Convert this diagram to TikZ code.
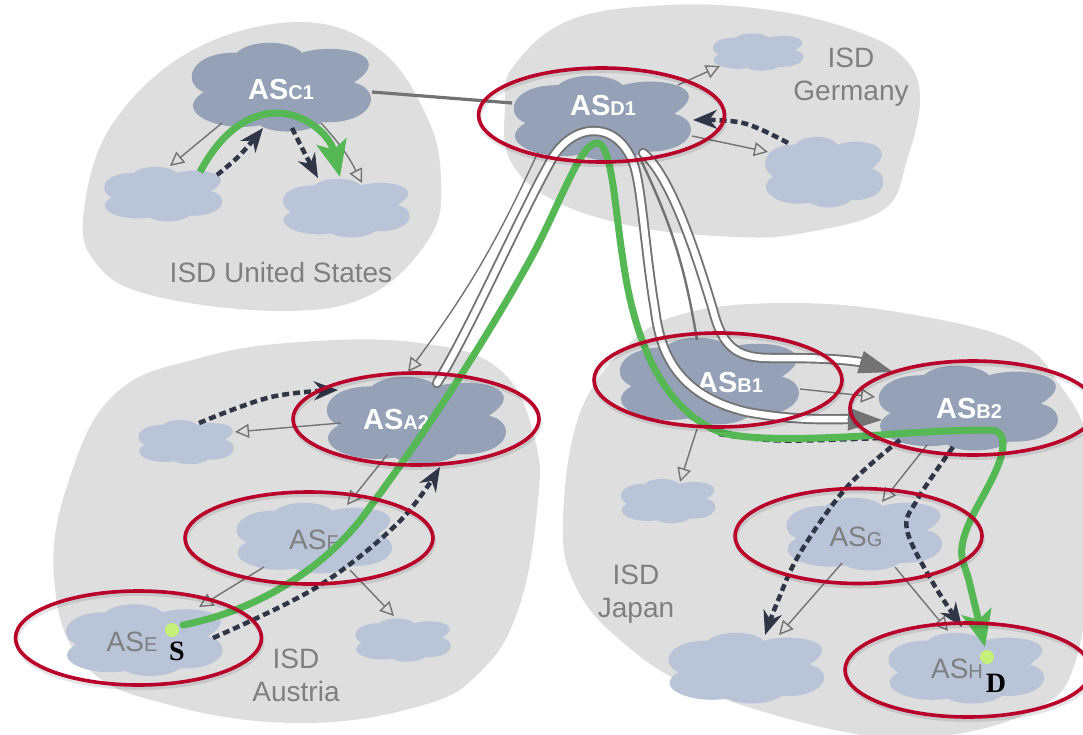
\documentclass[tikz,border=0pt]{standalone}
\usepackage{fontspec}
\setmainfont{Liberation Sans}
\newfontfamily\serifbold{Liberation Serif}
\usetikzlibrary{arrows.meta,shapes.geometric}
\definecolor{blob}{HTML}{DEDEDE}
\definecolor{clouddark}{HTML}{95A1B7}
\definecolor{cloudlight}{HTML}{B9C4D9}
\definecolor{ringred}{HTML}{B8002B}
\definecolor{labelgray}{HTML}{7F7F7F}
\definecolor{wiregray}{HTML}{737373}
\definecolor{pathgreen}{HTML}{55B855}
\definecolor{dashdark}{HTML}{2F3648}
\definecolor{dotgreen}{HTML}{C5F07A}
\tikzset{
  isdblob/.style={fill=blob,draw=none},
  isdtext/.style={text=labelgray,font=\fontsize{28}{33}\selectfont,align=center,inner sep=0pt},
  aswhite/.style={text=white,font=\bfseries\fontsize{29}{29}\selectfont,inner sep=0pt},
  asgray/.style={text=labelgray,font=\fontsize{28}{28}\selectfont,inner sep=0pt},
  wire/.style={draw=wiregray,line width=1.4pt,-{Triangle[open,length=14pt,width=14pt,line width=1.4pt]}},
  plainwire/.style={draw=wiregray,line width=2.4pt},
  peerwire/.style={draw=wiregray,line width=3.2pt},
  ring/.style={draw=ringred,line width=3.6pt,fill=none},
  ringshade/.style={draw=black,opacity=.10,line width=4pt,fill=none},
  greenpath/.style={draw=pathgreen,line width=7pt,line cap=round},
  greentip/.style={draw=pathgreen,line width=7pt,-{Stealth[length=36pt,width=30pt,inset=8pt,fill=pathgreen]}},
  dashpath/.style={draw=dashdark,line width=4.5pt,dash pattern=on 7pt off 4pt},
  dashtip/.style={draw=dashdark,line width=4.5pt,dash pattern=on 7pt off 4pt,-{Stealth[length=24pt,width=19pt,fill=dashdark]}},
  tube/.style={draw=wiregray,double=white,double distance=6.5pt,line width=1.9pt,line cap=round},
  tubetip/.style={draw=wiregray,line width=1pt,-{Triangle[length=34pt,width=23pt,fill=wiregray]}},
  dot/.style={circle,fill=dotgreen,draw=none,minimum size=14pt,inner sep=0pt},
}
\newcommand{\ascloud}[6]{%
  \path[fill=#6,shift={(#2,#3)},xscale=#4,yscale=#5]
    (-0.85,0.12) .. controls (-1.1,-0.1) and (-1.0,-0.8) .. (-0.485,-0.78)
    .. controls (-0.35,-1.08) and (0.1,-1.08) .. (0.23,-0.78)
    .. controls (0.6,-1.02) and (1.28,-0.75) .. (0.8,-0.1)
    .. controls (1.12,0.05) and (1.05,0.85) .. (0.45,0.8)
    .. controls (0.3,1.07) and (-0.1,1.07) .. (-0.23,0.87)
    .. controls (-0.7,1.05) and (-1.2,0.55) .. (-0.85,0.12) -- cycle;
  \node[ellipse,minimum width=2*#4pt,minimum height=2*#5pt,inner sep=0pt] (#1) at (#2,#3) {};%
}
\newcommand{\asring}[5]{%
  \draw[ringshade] (#2+1,#3+3) ellipse [x radius=#4,y radius=#5];
  \node[ellipse,ring,minimum width=2*#4pt,minimum height=2*#5pt,inner sep=0pt] (#1) at (#2,#3) {};%
}
\begin{document}
\begin{tikzpicture}[x=1pt,y=-1pt]
\useasboundingbox (0,0) rectangle (1083,735);
\clip (0,0) rectangle (1083,735);
% ISD regions
\fill[isdblob] plot[smooth cycle,tension=.65] coordinates {(84,210) (113,123) (193,50) (300,22) (380,50) (427,117) (441,180) (430,237) (370,295) (280,311) (150,295) (95,262)};
\fill[isdblob] plot[smooth cycle,tension=.65] coordinates {(505,107) (513,67) (570,20) (670,5) (770,10) (853,30) (903,57) (920,97) (907,160) (883,210) (803,233) (737,237) (637,227) (553,200) (510,160)};
\fill[isdblob] plot[smooth cycle,tension=.7] coordinates {(54,577) (70,477) (116,393) (200,358) (300,342) (420,343) (500,370) (535,440) (537,510) (518,610) (480,672) (420,706) (300,723) (170,705) (85,665)};
\fill[isdblob] plot[smooth cycle,tension=.65] coordinates {(563,520) (580,413) (630,343) (690,312) (790,303) (897,312) (1013,340) (1060,385) (1090,450) (1090,560) (1075,663) (1040,707) (950,735) (850,733) (700,690) (620,640) (575,585)};
% AS clouds
\ascloud{c1}{281}{87}{91}{44}{clouddark}
\ascloud{usl}{163}{194}{60}{27}{cloudlight}
\ascloud{usr}{346}{208}{64.5}{29}{cloudlight}
\ascloud{d1}{602}{118}{90}{42}{clouddark}
\ascloud{get}{758}{52}{46}{18.5}{cloudlight}
\ascloud{ger}{824}{172}{60}{35}{cloudlight}
\ascloud{a2}{416}{420}{91}{43}{clouddark}
\ascloud{atl}{186}{442}{48.5}{22}{cloudlight}
\ascloud{f}{314}{538}{79}{35}{cloudlight}
\ascloud{e}{144}{640}{79.5}{35.5}{cloudlight}
\ascloud{atr}{403}{640}{48.5}{21.5}{cloudlight}
\ascloud{b1}{709}{381}{91}{43}{clouddark}
\ascloud{b2}{968}{408}{91}{42}{clouddark}
\ascloud{jpl}{668}{501}{48}{22}{cloudlight}
\ascloud{g}{864}{534}{79}{36}{cloudlight}
\ascloud{jb}{746}{668}{79}{35}{cloudlight}
\ascloud{h}{966}{668}{79}{35}{cloudlight}
% labels
\node[isdtext] (tus) at (281,272) {ISD United States};
\node[isdtext] (tger) at (851,77) {ISD\\Germany};
\node[isdtext] (taut) at (296,675) {ISD\\Austria};
\node[isdtext] (tjap) at (636,594) {ISD\\Japan};
\node[aswhite] (lc1) at (281,90) {AS{\fontsize{20}{20}\selectfont C1}};
\node[aswhite] (ld1) at (603,106) {AS{\fontsize{20}{20}\selectfont D1}};
\node[aswhite] (la2) at (396,420) {AS{\fontsize{20}{20}\selectfont A2}};
\node[aswhite] (lb1) at (730,383) {AS{\fontsize{20}{20}\selectfont B1}};
\node[aswhite] (lb2) at (969,409) {AS{\fontsize{20}{20}\selectfont B2}};
\node[asgray] (lf) at (314,540) {AS{\fontsize{20}{20}\selectfont F}};
\node[asgray] (le) at (132,642) {AS{\fontsize{20}{20}\selectfont E}};
\node[asgray] (lg) at (856,537) {AS{\fontsize{20}{20}\selectfont G}};
\node[asgray] (lh) at (957,669) {AS{\fontsize{20}{20}\selectfont H}};
% provider links
\draw[peerwire] ([shift={(91,5)}]c1.center) -- ([shift={(-90,-15)}]d1.center);
\draw[wire] ([shift={(-59,36)}]c1.center) -- ([shift={(7,-28)}]usl.center);
\draw[wire] ([shift={(40,36)}]c1.center) to[bend left=8] ([shift={(16,-25)}]usr.center);
\draw[wire] ([shift={(76,-33)}]d1.center) -- ([shift={(-38,14)}]get.center);
\draw[wire] ([shift={(90,18)}]d1.center) -- ([shift={(-56,-20)}]ger.center);
\draw[wire] ([shift={(-64,34)}]d1.center) to[bend left=6] ([shift={(-8,-48)}]a2.center);
\draw[wire] ([shift={(-75,3)}]a2.center) -- ([shift={(49,-10)}]atl.center);
\draw[wire] ([shift={(-29,35)}]a2.center) -- ([shift={(33,-33)}]f.center);
\draw[wire] ([shift={(-50,29)}]f.center) -- ([shift={(55,-33)}]e.center);
\draw[wire] ([shift={(36,32)}]f.center) -- ([shift={(-9,-24)}]atr.center);
\draw[plainwire] ([shift={(38,40)}]d1.center) to[bend left=8] ([shift={(-12,-41)}]b1.center);
\draw[wire] ([shift={(91,8)}]b1.center) -- ([shift={(-93,-11)}]b2.center);
\draw[wire] ([shift={(-12,48)}]b1.center) -- ([shift={(12,-19)}]jpl.center);
\draw[wire] ([shift={(-41,37)}]b2.center) -- ([shift={(18,-32)}]g.center);
\draw[wire] ([shift={(-22,29)}]g.center) -- ([shift={(33,-33)}]jb.center);
\draw[wire] ([shift={(31,33)}]g.center) -- ([shift={(-18,-37)}]h.center);
% waypoints
\coordinate (ta2) at ([shift={(21,-37)}]a2.center);
\coordinate (tend1) at ([shift={(-86,12)}]b2.center);
\coordinate (tend1b) at ([shift={(-121,11)}]b2.center);
\coordinate (tend2) at ([shift={(-75,-36)}]b2.center);
\coordinate (tend2b) at ([shift={(-108,-46)}]b2.center);
\coordinate (tstart2) at ([shift={(41,35)}]d1.center);
\coordinate (gstart) at ([shift={(39,-15)}]e.center);
\coordinate (gend) at ([shift={(19,-21)}]h.center);
\coordinate (gendb) at ([shift={(4,-83)}]h.center);
% white tubes
\draw[tube] (ta2) .. controls (470,330) and (520,215) .. (553,157)
  .. controls (575,122) and (618,120) .. (634,165)
  .. controls (642,190) and (645,250) .. (655,310)
  .. controls (660,350) and (675,395) .. (747,412)
  .. controls (780,418) and (810,420) .. (tend1b);
\draw[tubetip] (tend1b) -- (tend1);
\draw[tube] (tstart2) .. controls (670,175) and (695,250) .. (713,310)
  .. controls (722,345) and (735,358) .. (770,358)
  .. controls (800,358) and (835,358) .. (tend2b);
\draw[tubetip] (tend2b) -- (tend2);
% dashed reverse paths
\draw[dashtip] plot[smooth,tension=.6] coordinates {([shift={(54,-19)}]usl.center) (240,155) ([shift={(-18,41)}]c1.center)};
\draw[dashtip] plot[smooth,tension=.6] coordinates {([shift={(11,41)}]c1.center) (303,150) ([shift={(-28,-30)}]usr.center)};
\draw[dashtip] plot[smooth,tension=.6] coordinates {([shift={(-36,-29)}]ger.center) (743,123) ([shift={(91,2)}]d1.center)};
\draw[dashtip] plot[smooth,tension=.6] coordinates {([shift={(13,-19)}]atl.center) (271,397) ([shift={(-78,-30)}]a2.center)};
\draw[dashtip] plot[smooth,tension=.6] coordinates {([shift={(69,-2)}]e.center) (317,587) (398,523) ([shift={(24,47)}]a2.center)};
\draw[dashpath] plot[smooth,tension=.6] coordinates {([shift={(10,53)}]b1.center) (780,440.5) (880,438)};
\draw[dashtip] plot[smooth,tension=.6] coordinates {([shift={(-68,32)}]b2.center) (847,487) (800,553) (777,603) ([shift={(19,-33)}]jb.center)};
\draw[dashtip] plot[smooth,tension=.6] coordinates {([shift={(-15,39)}]b2.center) (917,500) (907,530) (933,583) ([shift={(-4,-41)}]h.center)};
% green route
\draw[greentip] ([shift={(37,-22)}]usl.center) .. controls (225,125) and (255,113) .. (277,113)
  .. controls (305,113) and (330,135) .. ([shift={(-6,-31)}]usr.center);
\draw[greenpath] (gstart) .. controls (260,610) and (330,565) .. (370,507)
  .. controls (420,440) and (480,350) .. (530,260)
  .. controls (560,205) and (580,143) .. (597,143)
  .. controls (612,143) and (615,210) .. (623,260)
  .. controls (630,310) and (650,405) .. (720,432)
  .. controls (745,440) and (800,440) .. (880,435)
  .. controls (920,432) and (960,430) .. (990,430)
  .. controls (1005,430) and (1005,445) .. (1000,460)
  .. controls (990,490) and (965,520) .. (962,547)
  .. controls (960,560) and (966,567) .. (gendb);
\draw[greentip] (gendb) -- (gend);
% red rings
\asring{rd1}{601.5}{115}{123}{47}
\asring{ra2}{416}{419}{123}{46}
\asring{rf}{309}{538}{124}{46}
\asring{re}{138.5}{638}{123}{47}
\asring{rb1}{718}{380}{124}{47}
\asring{rb2}{973}{408}{123}{47}
\asring{rg}{858.5}{536}{123.5}{47.5}
\asring{rh}{968}{670}{123}{47}
% source and destination
\node[dot] (src) at (172,630) {};
\node[dot] (dst) at (987,657) {};
\node[font=\serifbold\bfseries\fontsize{28}{28}\selectfont,inner sep=0pt] (ls) at (177,651) {S};
\node[font=\serifbold\bfseries\fontsize{28}{28}\selectfont,inner sep=0pt] (ld) at (996,683) {D};
\end{tikzpicture}
\end{document}
